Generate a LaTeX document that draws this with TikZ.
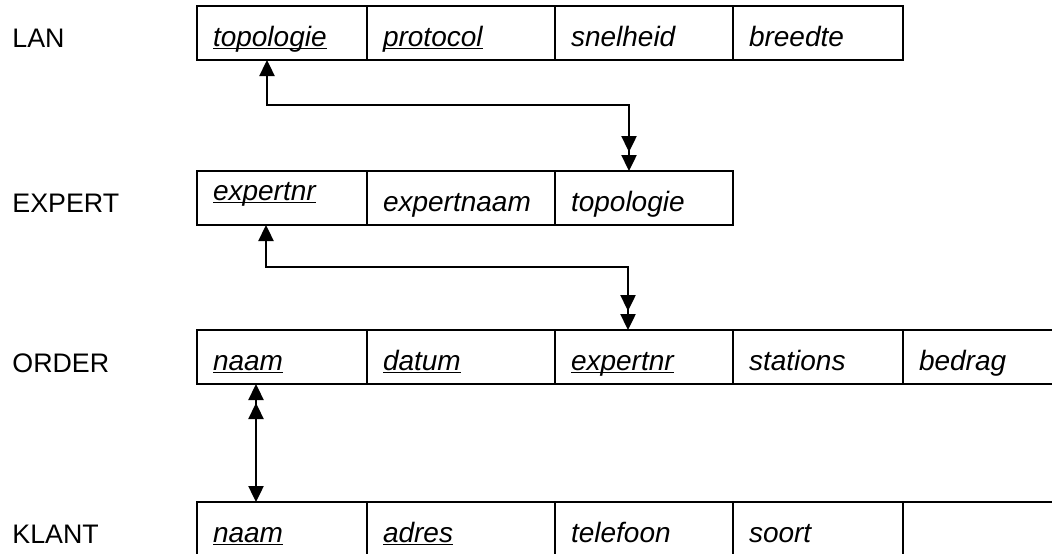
\documentclass[tikz,border=0pt]{standalone}
\usepackage{fontspec}
\setmainfont{Liberation Sans}
\usetikzlibrary{positioning,arrows.meta}

\newcommand{\keyfield}[1]{\setbox0\hbox{#1}\rlap{\rule[-1.6pt]{\wd0}{0.6pt}}\box0}

\begin{document}
\begin{tikzpicture}[x=0.5pt,y=-0.5pt,
  cell/.style={draw,line width=1.3pt,outer sep=0pt,minimum height=27pt,inner ysep=0pt,inner xsep=8pt,
    text height=14.5pt,text depth=1.5pt,align=left,font=\fontsize{14}{16}\selectfont\itshape},
  cola/.style={cell,text width=69pt},
  colb/.style={cell,text width=78pt},
  colc/.style={cell,text width=73pt},
  tabname/.style={anchor=base west,inner sep=0pt,font=\fontsize{13.4}{16}\selectfont},
  fk/.style={line width=1.2pt,{Triangle[length=8pt,width=7.5pt]}-{Triangle[length=8pt,width=7.5pt,sep=1.5pt]Triangle[length=8pt,width=7.5pt]}}]
\useasboundingbox (0,0) rectangle (1052,553);
\clip (0,0) rectangle (1052,553);

% LAN
\node[tabname] (lan) at (12,47) {LAN};
\node[cola,anchor=north west] (lan-topo) at (197,6) {\keyfield{topologie}};
\node[colb,right=0pt of lan-topo] (lan-prot) {\keyfield{protocol}};
\node[colc,right=0pt of lan-prot] (lan-snel) {snelheid};
\node[cola,right=0pt of lan-snel] (lan-bree) {breedte};

% EXPERT
\node[tabname] (expert) at (12,212) {EXPERT};
\node[cola,anchor=north west,text height=12pt,text depth=10pt] (exp-nr) at (197,171) {\keyfield{expertnr}};
\node[colb,right=0pt of exp-nr] (exp-naam) {expertnaam};
\node[colc,right=0pt of exp-naam] (exp-topo) {topologie};

% ORDER
\node[tabname] (order) at (12,372) {ORDER};
\node[cola,anchor=north west] (ord-naam) at (197,330) {\keyfield{naam}};
\node[colb,right=0pt of ord-naam] (ord-datum) {\keyfield{datum}};
\node[colc,right=0pt of ord-datum] (ord-nr) {\keyfield{expertnr}};
\node[cola,right=0pt of ord-nr] (ord-stat) {stations};
\node[cola,right=0pt of ord-stat] (ord-bedr) {bedrag};

% KLANT
\node[tabname] (klant) at (12,543) {KLANT};
\node[cola,anchor=north west] (kla-naam) at (197,502) {\keyfield{naam}};
\node[colb,right=0pt of kla-naam] (kla-adres) {\keyfield{adres}};
\node[colc,right=0pt of kla-adres] (kla-tel) {telefoon};
\node[cola,right=0pt of kla-tel] (kla-soort) {soort};
\node[cola,right=0pt of kla-soort] (kla-leeg) {};

% foreign keys
\draw[fk] ([xshift=-7.5pt]lan-topo.south) -- ++(0,45) -| ([xshift=-7.5pt]exp-topo.north);
\draw[fk] ([xshift=-8pt]exp-nr.south) -- ++(0,42) -| ([xshift=-8pt]ord-nr.north);
\draw[fk] ([xshift=-13pt]kla-naam.north) -- ([xshift=-13pt]ord-naam.south);
\end{tikzpicture}
\end{document}
